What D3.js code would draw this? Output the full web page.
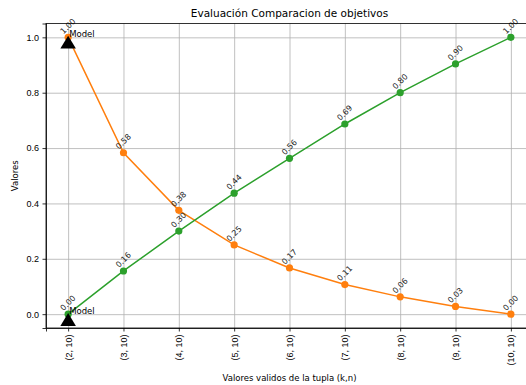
<!DOCTYPE html>
<html>
<head>
<meta charset="utf-8">
<script src="https://cdn.jsdelivr.net/npm/d3@7"></script>
<style>
  body { margin: 0; background: #fff; }
  svg { display: block; font-family: "DejaVu Sans", sans-serif; }
  .grid line { stroke: #b0b0b0; stroke-width: 0.8; }
  .axis text { fill: #000; font-size: 9px; }
  .axis line, .axis path { stroke: #000; stroke-width: 0.8; }
</style>
</head>
<body>
<div id="chart"></div>
<script>
const categories = ['(2, 10)', '(3, 10)', '(4, 10)', '(5, 10)', '(6, 10)', '(7, 10)', '(8, 10)', '(9, 10)', '(10, 10)'];
const orangeVals = [1.0, 0.583, 0.375, 0.25, 0.167, 0.107, 0.0625, 0.028, 0.0];
const greenVals  = [0.0, 0.156, 0.30, 0.437, 0.563, 0.687, 0.80, 0.904, 1.0];
const modelVals  = [0.975, -0.027];   // black triangles at (2, 10)
const modelText  = [1.0, 0.0];
const yTicks = [0.0, 0.2, 0.4, 0.6, 0.8, 1.0];

const W = 526, H = 385;
const MARGIN = { top: 23.5, right: -7, bottom: 57, left: 46 };
const w = W - MARGIN.left - MARGIN.right;
const h = H - MARGIN.top - MARGIN.bottom;

const svg = d3.select('#chart').append('svg')
  .attr('width', W).attr('height', H);

const g = svg.append('g').attr('transform', `translate(${MARGIN.left},${MARGIN.top})`);

const x = d3.scalePoint().domain(categories).range([0, w]).padding(0.4);
const y = d3.scaleLinear().domain([-0.05, 1.05]).range([h, 0]);

// Gridlines
g.append('g').attr('class', 'grid')
  .call(d3.axisBottom(x).tickSize(h).tickFormat(''))
  .call(ax => ax.select('.domain').remove());
g.append('g').attr('class', 'grid')
  .call(d3.axisLeft(y).tickValues(yTicks).tickSize(-w).tickFormat(''))
  .call(ax => ax.select('.domain').remove());

svg.append('clipPath').attr('id', 'plot-clip')
  .append('rect').attr('width', w).attr('height', h);

const plot = g.append('g').attr('clip-path', 'url(#plot-clip)');

const line = d3.line()
  .x((d, i) => x(categories[i]))
  .y(d => y(d));

const series = [
  { vals: orangeVals, color: '#ff7f0e' },
  { vals: greenVals,  color: '#2ca02c' }
];

series.forEach(s => {
  plot.append('path').datum(s.vals)
    .attr('d', line)
    .attr('fill', 'none')
    .attr('stroke', s.color)
    .attr('stroke-width', 1.5);
  plot.selectAll(null).data(s.vals).join('circle')
    .attr('cx', (d, i) => x(categories[i]))
    .attr('cy', d => y(d))
    .attr('r', 3.6)
    .attr('fill', s.color);
});

// Model markers
const tri = d3.symbol().type(d3.symbolTriangle).size(95);
plot.selectAll('.model').data(modelVals).join('path')
  .attr('class', 'model')
  .attr('d', tri)
  .attr('transform', d => `translate(${x(categories[0])},${y(d)}) scale(1.05,1)`)
  .attr('fill', '#000');

// Value labels
series.forEach(s => {
  g.selectAll(null).data(s.vals).join('text')
    .attr('transform', (d, i) => `translate(${x(categories[i])},${y(d) - 11}) rotate(-45)`)
    .attr('text-anchor', 'middle')
    .attr('dominant-baseline', 'central')
    .style('font-size', '8px')
    .style('fill', '#222')
    .text(d => d.toFixed(2));
});

// Model annotations
g.selectAll('.model-label').data(modelText).join('text')
  .attr('class', 'model-label')
  .attr('x', x(categories[0]) + 1)
  .attr('y', d => y(d))
  .style('font-size', '8.5px')
  .style('fill', '#000')
  .text('Model');

// Axes
g.append('g').attr('class', 'axis')
  .attr('transform', `translate(0,${h})`)
  .call(d3.axisBottom(x).tickSize(3.5).tickPadding(3))
  .call(ax => ax.selectAll('text')
    .attr('transform', 'rotate(-90)')
    .attr('text-anchor', 'end')
    .attr('dy', '0.32em')
    .attr('x', -6.5)
    .attr('y', 0));

g.append('g').attr('class', 'axis')
  .call(d3.axisLeft(y).tickValues(yTicks).tickSize(3.5).tickPadding(3.5).tickFormat(d3.format('.1f')));

// Frame
g.append('rect').attr('width', w).attr('height', h)
  .attr('fill', 'none').attr('stroke', '#000').attr('stroke-width', 0.8);

// Titles
svg.append('text')
  .attr('x', MARGIN.left + w / 2).attr('y', 17)
  .attr('text-anchor', 'middle')
  .style('font-size', '10.5px')
  .text('Evaluación Comparacion de objetivos');

svg.append('text')
  .attr('x', MARGIN.left + w / 2).attr('y', 381)
  .attr('text-anchor', 'middle')
  .style('font-size', '8.5px')
  .text('Valores validos de la tupla (k,n)');

svg.append('text')
  .attr('transform', `translate(18,${MARGIN.top + h / 2}) rotate(-90)`)
  .attr('text-anchor', 'middle')
  .style('font-size', '8.5px')
  .text('Valores');
</script>
</body>
</html>
